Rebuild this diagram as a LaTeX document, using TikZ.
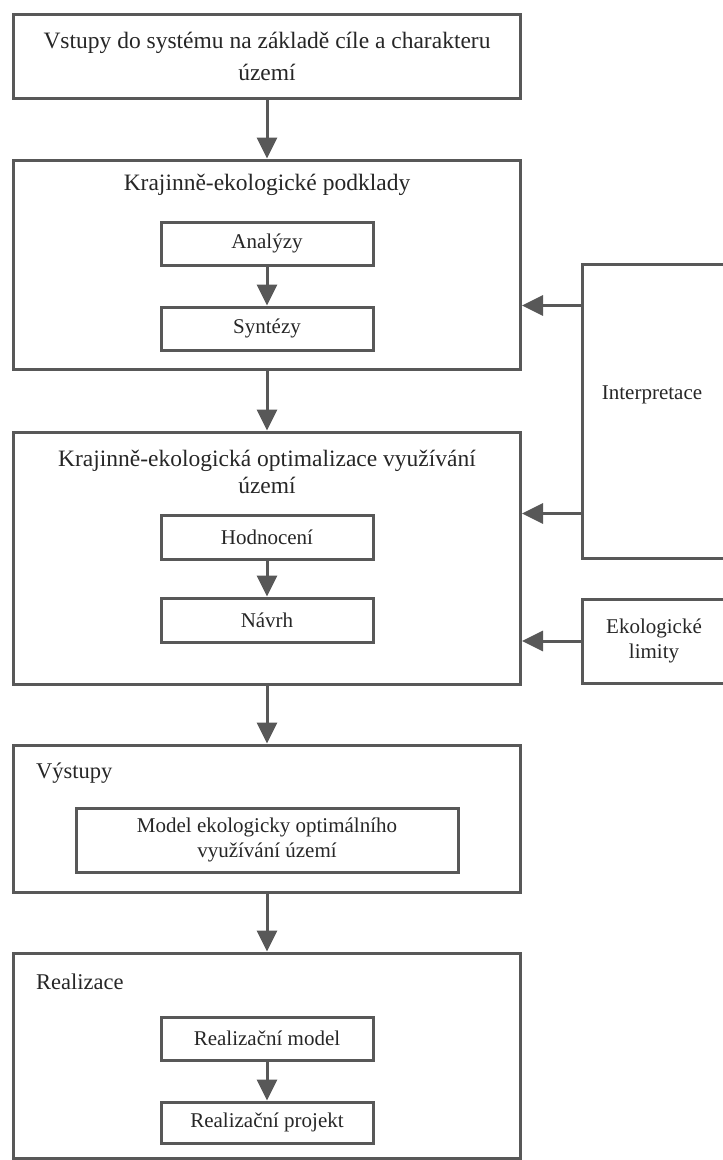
\documentclass[tikz,border=0pt]{standalone}
\usepackage{fontspec}
\setmainfont{Liberation Serif}
\usetikzlibrary{arrows.meta}
\definecolor{linegray}{RGB}{88,88,88}
\definecolor{inkgray}{RGB}{38,38,38}

\begin{document}
\begin{tikzpicture}[x=1pt,y=-1pt,
  frame/.style={draw=linegray,line width=3pt,inner sep=0pt,minimum width=507pt},
  inbox/.style={draw=linegray,line width=3pt,inner sep=0pt,minimum width=212pt,minimum height=43pt,
    text=inkgray,font=\fontsize{21}{25}\selectfont},
  sidebox/.style={draw=linegray,line width=3pt,inner sep=0pt,minimum width=144pt,
    text=inkgray,font=\fontsize{21}{25}\selectfont,align=center},
  title/.style={text=inkgray,inner sep=0pt,align=center,font=\fontsize{23.5}{27}\selectfont},
  arr/.style={draw=linegray,line width=3pt,-{Triangle[width=20pt,length=21pt]}}]
\useasboundingbox (0,0) rectangle (723,1160);
\node[frame,minimum height=84pt,text=inkgray,align=center,font=\fontsize{23.5}{32}\selectfont] (vstup) at (267,56)
  {Vstupy do systému na základě cíle a charakteru\\území};
\node[frame,minimum height=209pt] (podklady) at (267,264.5) {};
\node[title] (podkladytit) at (267,185) {Krajinně-ekologické podklady};
\node[inbox] (analyzy) at (267,243.5) {Analýzy};
\node[inbox] (syntezy) at (267,328.5) {Syntézy};
\node[frame,minimum height=252pt] (optim) at (267,558) {};
\node[title] (optimtit) at (267,471.5) {Krajinně-ekologická optimalizace využívání\\území};
\node[inbox,minimum height=44pt] (hodnoceni) at (267,537) {Hodnocení};
\node[inbox,minimum height=44pt] (navrh) at (267,620) {Návrh};
\node[sidebox,minimum height=294pt] (interp) at (654,411) {};
\node[text=inkgray,inner sep=0pt,font=\fontsize{21}{25}\selectfont] (interptit) at (652,395) {Interpretace};
\node[sidebox,minimum height=84pt] (limity) at (654,641) {Ekologické\\limity};
\node[frame,minimum height=147pt] (vystupy) at (267,818.5) {};
\node[title,anchor=west,font=\fontsize{22.5}{27}\selectfont] (vystupytit) at (36,773) {Výstupy};
\node[inbox,minimum width=382pt,minimum height=64pt,align=center] (model) at (267,840)
  {Model ekologicky optimálního\\využívání území};
\node[frame,minimum height=205pt] (realizace) at (267,1055.5) {};
\node[title,anchor=west,font=\fontsize{22.5}{27}\selectfont] (realizacetit) at (36,982) {Realizace};
\node[inbox] (realmodel) at (267,1038.5) {Realizační model};
\node[inbox,minimum height=41pt] (realprojekt) at (267,1122.5) {Realizační projekt};
\draw[arr] (vstup) -- (podklady);
\draw[arr] (analyzy) -- (syntezy);
\draw[arr] (podklady) -- (optim);
\draw[arr] (hodnoceni) -- (navrh);
\draw[arr] (optim) -- (vystupy);
\draw[arr] (vystupy) -- (realizace);
\draw[arr] (realmodel) -- (realprojekt);
\draw[arr] (interp.west |- syntezy.north) -- (podklady.east |- syntezy.north);
\draw[arr] (interp.west |- hodnoceni.north) -- (optim.east |- hodnoceni.north);
\draw[arr] (limity.west) -- (limity.west -| optim.east);
\end{tikzpicture}
\end{document}
